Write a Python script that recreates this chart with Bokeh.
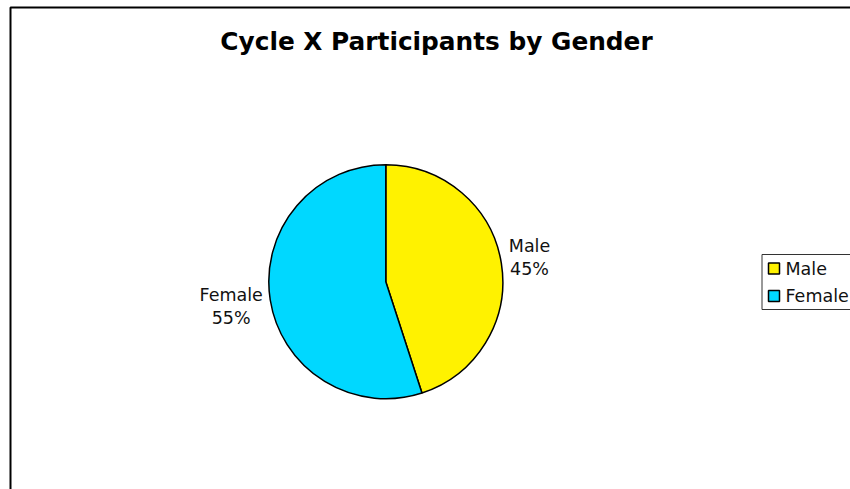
import numpy as np
from bokeh.plotting import figure
from bokeh.models import Range1d, ColumnDataSource
from bokeh.core.properties import value
from bokeh.embed import file_html
from bokeh.resources import INLINE

# ---- data ----
title = "Cycle X Participants by Gender"
categories = ["Male", "Female"]
values = [45, 55]
colors = ["#FFF200", "#00D8FF"]

# ---- layout (canvas pixels, measured from top-left) ----
W, H = 850, 489
cx, cy_top, r = 385.3, 281.2, 117.0
cy = H - cy_top
FONT = "DejaVu Sans"

vals = np.array(values, dtype=float)
frac = vals / vals.sum()
cum = np.concatenate([[0], np.cumsum(frac)])
start = np.pi / 2 - 2 * np.pi * cum[:-1]
end = np.pi / 2 - 2 * np.pi * cum[1:]
mid = (start + end) / 2

# label boxes sit just outside the pie, on the side of the slice's mid-angle
side = np.sign(np.cos(mid))
lx = cx + side * (r + 6)
ly = cy + (r + 40) * np.sin(mid)
labels = [f"{c}\n{int(round(f * 100))}%" for c, f in zip(categories, frac)]
anchors = ["center_left" if s > 0 else "center_right" for s in side]

src = ColumnDataSource(dict(cat=categories, start=start, end=end, color=colors,
                            lx=lx, ly=ly, label=labels, anchor=anchors))

p = figure(width=W, height=H, x_range=Range1d(0, W), y_range=Range1d(0, H),
           x_axis_type=None, y_axis_type=None, min_border=0,
           toolbar_location=None, output_backend="svg", outline_line_color=None)
p.grid.visible = False
p.background_fill_color = "white"
p.border_fill_color = "white"

# chart area border (right/bottom edges fall outside the window)
p.quad(left=[10], right=[W + 40], top=[H - 7], bottom=[-40],
       fill_color=None, line_color="black", line_width=2)

# title
p.text(x=[436], y=[H - 40.5], text=[title], text_font=value(FONT),
       text_font_style="bold", text_font_size="24.8px", text_align="center",
       text_baseline="alphabetic", text_color="black")

# pie
p.wedge(x=cx, y=cy, radius=r, start_angle="start", end_angle="end",
        direction="clock", fill_color="color", line_color="black",
        line_width=1.5, source=src)

# data labels
p.text(x="lx", y="ly", text="label", anchor="anchor", source=src,
       text_font=value(FONT), text_font_size="17.5px", text_align="center",
       text_color="#111111", text_line_height=1.15)

# legend
leg_left, leg_top, leg_bottom = 761.5, 254, 309
p.quad(left=[leg_left], right=[W + 40], top=[H - leg_top], bottom=[H - leg_bottom],
       fill_color="white", line_color="#333333", line_width=1)
row_y = [H - 268, H - 295.5]
p.rect(x=[773.5] * len(categories), y=row_y, width=11, height=11,
       fill_color=colors, line_color="black", line_width=1.5)
p.text(x=[785] * len(categories), y=row_y, text=categories,
       text_font=value(FONT), text_font_size="17.5px", text_baseline="middle",
       text_align="left", text_color="#111111")

open("out.html", "w").write(file_html(p, INLINE))
